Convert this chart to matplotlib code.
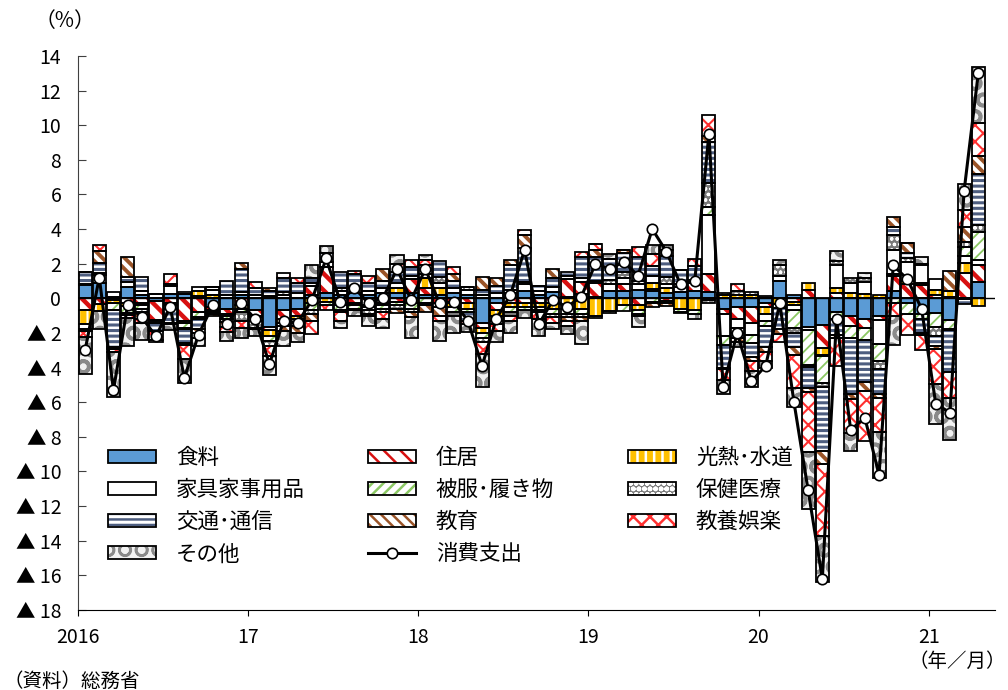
import numpy as np
import matplotlib.pyplot as plt
from matplotlib.patches import Patch
from matplotlib.legend_handler import HandlerTuple

plt.rcParams['font.family'] = ['Noto Sans CJK JP', 'DejaVu Sans']
plt.rcParams['hatch.linewidth'] = 1.8

# 2016/01 - 2021/04, contributions to year-on-year change (% pt)
food = [0.75, 0.86, 0.1, 0.65, 0.2, -0.15, 0.25, 0.25, 0.15, -0.5, -0.6, 0.2,
        -0.7, -1.65, -0.7, -0.6, 0.2, 0.3, 0.2, 0.3, 0.2, 0.3, 0.3, 0.3,
        0.2, 0.2, 0.3, 0.2, -1.4, -0.3, 0.3, 0.4, 0.2, 0.35, 0.1, 0.25,
        0.1, 0.45, 0.4, 0.5, 0.4, 0.3, 0.35, 0.4, 0.35, -0.6, -0.5, -0.5,
        -0.3, 1.0, 0.17, -1.65, -1.55, -0.8, -1.0, -1.2, -1.05, 0.45, -0.3, -0.9,
        -0.85, -1.25, -0.05, 0.95]
housing = [-0.65, -0.35, -0.1, -0.25, -0.3, -1.1, -0.3, -1.3, -0.8, -0.2, -0.3, -0.4,
           -0.3, -0.2, -0.5, -0.4, 0.5, 1.5, -0.3, -0.3, -0.4, -0.3, -0.2, 0.8,
           0.4, -0.3, -0.3, -0.3, -0.3, -0.4, -0.3, -0.3, -0.3, -0.3, 1.0, 0.7,
           0.8, 0.0, 0.4, -0.4, 0.16, -0.15, 0.0, 0.5, 1.05, -0.3, -0.7, -0.9,
           -0.2, 0.0, -0.2, 0.5, -1.3, 0.3, -0.6, -0.5, -0.2, 0.85, 0.8, 0.75,
           0.2, 0.1, 1.45, 0.95]
utilities = [-0.85, -0.4, -0.2, -0.2, -0.1, -0.05, -0.1, -0.1, 0.3, 0.2, -0.1, -0.2,
             -0.1, -0.3, -0.2, -0.2, -0.3, -0.2, -0.1, -0.1, -0.1, -0.1, 0.3, -0.3,
             0.6, 0.4, -0.2, -0.3, -0.3, -0.3, -0.2, -0.2, -0.2, -0.3, -0.6, -0.6,
             -1.0, -0.75, -0.4, -0.3, 0.3, 0.3, -0.6, -0.7, -0.1, 0.2, 0.2, 0.2,
             -0.4, -0.35, -0.2, 0.4, -0.4, 0.3, 0.3, 0.25, 0.17, 0.1, 0.2, 0.15,
             0.3, 0.3, 0.6, -0.46]
furniture = [-0.3, 0.5, 0.25, 0.3, 0.25, 0.25, 0.45, 0.1, 0.2, 0.3, 0.2, 0.15,
             0.2, 0.15, 0.2, 0.3, 0.2, 0.3, 0.2, 0.3, 0.2, 0.3, 0.3, 0.2,
             0.2, 0.3, 0.3, 0.3, 0.2, 0.3, 0.2, 0.4, 0.2, 0.3, 0.2, 0.2,
             0.1, 0.4, 0.4, 0.3, 0.4, 0.25, 0.3, 0.15, 3.4, -1.3, -0.5, -0.7,
             -0.4, 0.3, -0.3, -0.2, -0.1, 1.3, 0.6, 0.7, -1.4, 1.4, 1.1, 1.0,
             0.6, 0.0, 0.4, 0.3]
clothing = [-0.1, 0.0, -0.35, -0.4, -0.2, -0.1, -0.2, -0.3, -0.3, -0.1, -0.2, -0.2,
            -0.2, -0.3, -0.2, -0.2, -0.4, -0.2, -0.3, -0.2, -0.2, -0.2, -0.2, -0.3,
            -0.3, -0.2, -0.3, -0.2, -0.3, -0.3, -0.3, -0.2, -0.2, -0.3, -0.3, -0.3,
            -0.15, -0.1, -0.35, -0.2, -0.2, -0.15, -0.17, -0.2, 0.5, -0.5, -0.3, -0.5,
            -0.3, -0.2, -1.0, -2.0, -1.55, -0.4, -0.7, -0.7, -0.95, -0.3, -0.6, -0.3,
            -0.8, -0.5, 0.5, 1.65]
health = [0.05, 0.1, -0.05, -0.1, -0.2, 0.0, 0.1, -0.1, -0.1, -0.1, -0.15, -0.5,
          -0.4, -0.3, 0.15, -0.2, -0.2, 0.0, 0.2, -0.1, -0.2, -0.2, -0.2, -0.2,
          -0.1, 0.35, -0.2, 0.15, -0.2, -0.2, -0.2, 0.13, -0.1, -0.2, -0.2, -0.2,
          0.0, 0.2, 0.3, 0.2, -0.1, 0.4, 0.2, 0.0, 1.35, 0.1, 0.2, 0.15,
          0.15, 0.6, -0.3, -0.1, -0.2, 0.25, 0.25, 0.2, -0.5, 0.85, 0.2, 0.1,
          -0.5, -0.1, 0.3, 0.4]
transport = [0.7, 0.6, -2.1, 0.3, 0.8, -0.5, -0.8, -0.8, -0.6, 0.15, 0.8, 1.35,
             0.4, 0.3, 0.85, 0.6, 0.3, 0.5, 0.9, 0.8, 0.5, 0.4, 0.6, 0.5,
             0.5, 0.9, 0.4, -0.5, 0.3, 0.4, 1.4, 2.0, 0.3, 0.5, 0.2, 1.25,
             1.4, 1.2, 1.1, 1.4, 0.6, 1.2, 0.8, 0.8, 2.4, -1.3, -0.3, -0.8,
             -1.2, -1.2, -0.8, -1.25, -3.7, -0.9, -3.2, -2.45, -1.45, 0.45, 0.3, -0.8,
             -0.6, -2.4, -0.3, 2.9]
education = [0.0, 0.7, -0.1, 1.15, -0.4, 0.0, -0.1, -0.1, -0.2, -0.1, -0.3, 0.35,
             -0.1, 0.15, -0.3, -0.4, -0.4, 0.0, -0.1, 0.0, -0.1, 0.7, -0.24, -0.3,
             -0.4, -0.5, 0.4, 0.0, 0.75, 0.5, 0.3, 0.7, 0.0, 0.55, -0.2, -0.2,
             0.4, 0.0, 0.2, -0.1, -0.2, -0.12, -0.1, 0.0, 0.3, -0.1, -0.2, -0.2,
             -0.3, -0.3, -0.5, -0.2, -0.75, -0.2, -0.3, -0.5, -0.2, 0.6, 0.6, -0.1,
             -0.2, 1.2, 0.87, 1.06]
recreation = [-0.35, 0.3, -0.2, -0.2, -0.2, -0.5, 0.6, -0.8, -0.3, 0.0, -0.3, -0.4,
              0.35, -0.6, 0.25, 0.25, -0.75, -0.3, -0.5, 0.2, 0.4, -0.4, 0.5, 0.4,
              0.3, -0.3, 0.4, -0.2, -0.7, -0.4, -0.3, 0.3, -0.4, -0.3, -0.3, 0.3,
              0.35, 0.0, 0.0, 0.55, 0.7, 0.35, 0.0, 0.4, 1.25, -0.6, 0.4, -0.6,
              -0.5, -0.45, -1.9, -3.5, -4.2, -1.6, -2.0, -2.9, -2.0, -0.7, -1.2, -0.9,
              -2.0, -1.5, 1.0, 1.93]
other = [-2.1, -1.0, -2.6, -1.6, -1.0, -0.1, -0.35, -1.4, -0.45, 0.0, -0.5, -0.6,
         -0.4, -1.1, -0.85, -0.55, 0.7, 0.4, -0.4, -0.3, -0.6, -0.5, 0.5, -1.2,
         0.3, -1.15, -1.0, -0.42, -1.9, -0.6, -0.7, -0.46, -1.0, -0.4, -0.46, -1.32,
         0.0, 0.3, 0.0, -0.65, 0.5, 0.3, 0.0, -0.3, -0.2, -0.8, -0.3, -0.95,
         -0.45, 0.3, -1.1, -3.25, -2.65, 0.6, -1.0, 0.3, -2.6, -1.7, 0.0, 0.4,
         -2.3, -2.45, 1.5, 3.2]

# consumption expenditure, real, year-on-year (%)
total = [-3.0, 1.2, -5.3, -0.4, -1.1, -2.2, -0.5, -4.6, -2.1, -0.4, -1.5, -0.3,
         -1.2, -3.8, -1.3, -1.4, -0.1, 2.3, -0.2, 0.6, -0.3, 0.0, 1.7, -0.1,
         1.7, -0.3, -0.2, -1.3, -3.9, -1.2, 0.2, 2.8, -1.5, -0.1, -0.5, 0.1,
         2.0, 1.7, 2.1, 1.3, 4.0, 2.7, 0.8, 1.0, 9.5, -5.1, -2.0, -4.8,
         -3.9, -0.3, -6.0, -11.1, -16.2, -1.2, -7.6, -6.9, -10.2, 1.9, 1.1, -0.6,
         -6.1, -6.6, 6.2, 13.0]

categories = ['食料', '住居', '光熱･水道', '家具家事用品', '被服･履き物',
              '保健医療', '交通･通信', '教育', '教養娯楽', 'その他']
series = [food, housing, utilities, furniture, clothing,
          health, transport, education, recreation, other]

# face colour, hatch, hatch colour, hatch line width
styles = [
    ('#5B9BD5', '', '#5B9BD5', 1.0),
    ('white', '\\\\', '#D81010', 3.2),
    ('#FFC000', '||', 'white', 1.5),
    ('white', '', 'white', 1.0),
    ('white', '///', '#8CC864', 1.3),
    ('#7A7A7A', 'ooo', 'white', 0.9),
    ('white', '---', '#4E5E80', 2.2),
    ('white', '\\\\\\', '#9A5428', 2.8),
    ('white', 'xx', '#FF3030', 1.5),
    ('#F2F2F2', 'O', '#8A8A8A', 2.6),
]

years = ['2016', '17', '18', '19', '20', '21']

fig = plt.figure(figsize=(10.08, 6.9), dpi=100)
ax = fig.add_axes([0.0774, 0.116, 0.910, 0.803])

x = np.arange(len(total))
pos_base = np.zeros(len(x))
neg_base = np.zeros(len(x))
W = 0.92
handles = []
for name, vals, (fc, hatch, hc, hlw) in zip(categories, series, styles):
    v = np.array(vals, dtype=float)
    bottom = np.where(v >= 0, pos_base, neg_base)
    bars = ax.bar(x, v, bottom=bottom, width=W, facecolor=fc, hatch=hatch,
                  edgecolor=hc, linewidth=0, zorder=2)
    fill = Patch(facecolor=fc, hatch=hatch, edgecolor=hc, linewidth=0)
    for p in list(bars) + [fill]:
        if hasattr(p, 'set_hatch_linewidth'):
            p.set_hatch_linewidth(hlw)
    ax.bar(x, v, bottom=bottom, width=W, fill=False, edgecolor='black',
           linewidth=1.3, zorder=3)
    pos_base += np.where(v > 0, v, 0)
    neg_base += np.where(v < 0, v, 0)
    handles.append((fill, Patch(fill=False, edgecolor='black', linewidth=1.3)))

ax.axhline(0, color='black', linewidth=1.0, zorder=4)
line, = ax.plot(x, total, color='black', linewidth=2.2, marker='o', markersize=7.5,
                markerfacecolor='white', markeredgecolor='black',
                markeredgewidth=1.2, zorder=5)

ax.set_xlim(-0.5, 64.2)
ax.set_ylim(-18, 14)
yt = np.arange(-18, 15, 2)
ax.set_yticks(yt)
ax.set_yticklabels([f'▲ {abs(v)}' if v < 0 else str(v) for v in yt], fontsize=14)
ax.set_xticks(np.arange(len(years)) * 12 - 0.5)
ax.set_xticklabels(years, fontsize=14)
ax.tick_params(axis='y', direction='in', length=6, pad=12, color='#404040')
ax.tick_params(axis='x', direction='out', length=4, pad=8)
for s in ['top', 'right']:
    ax.spines[s].set_visible(False)
ax.spines['left'].set_color('#404040')

labels = categories + ['消費支出']
handles = handles + [line]
columns = [[0, 3, 6, 9], [1, 4, 7, 10], [2, 5, 8]]
col_x = [108, 368, 628]
for cx, idx in zip(col_x, columns):
    fig.legend([handles[i] for i in idx], [labels[i] for i in idx],
               loc='upper left', bbox_to_anchor=(cx / 1008, 1 - 447 / 690),
               frameon=False, fontsize=15.5, borderpad=0, borderaxespad=0,
               handlelength=2.25, handleheight=0.55, handletextpad=0.9,
               labelspacing=0.47,
               handler_map={tuple: HandlerTuple(ndivide=1)})

fig.text(0.064, 0.97, '（%）', ha='center', va='center', fontsize=15)
fig.text(0.998, 0.041, '（年／月）', ha='right', va='center', fontsize=14)
fig.text(0.003, 0.013, '（資料）総務省', ha='left', va='center', fontsize=14)

fig.savefig('out.png', dpi=100)
